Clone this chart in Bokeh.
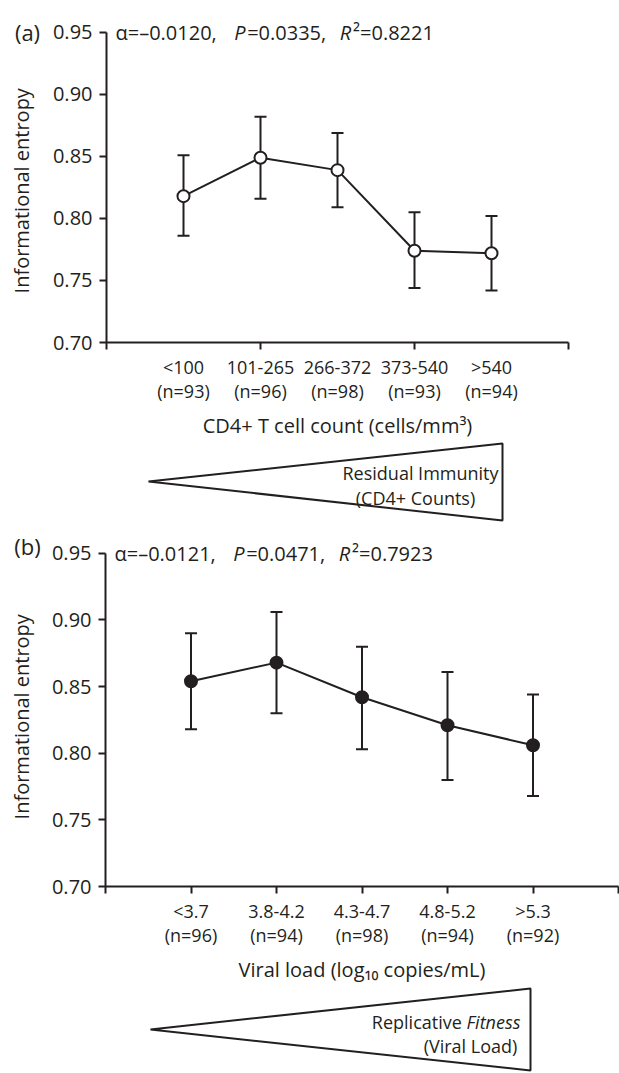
import math
from bokeh.plotting import figure
from bokeh.models import (FixedTicker, Label, Whisker, TeeHead, ColumnDataSource,
                          Range1d, NumeralTickFormatter)
from bokeh.layouts import column, row
from bokeh.embed import file_html
from bokeh.resources import INLINE

INK = "#231f20"
FONT = "Open Sans"

# ---------------- data ----------------
cd4_groups = ["<100", "101-265", "266-372", "373-540", ">540"]
cd4_n = [93, 96, 98, 93, 94]
cd4_mean = [0.818, 0.849, 0.839, 0.774, 0.772]
cd4_hi = [0.851, 0.882, 0.869, 0.805, 0.802]
cd4_lo = [0.786, 0.816, 0.809, 0.744, 0.742]

vl_groups = ["<3.7", "3.8-4.2", "4.3-4.7", "4.8-5.2", ">5.3"]
vl_n = [96, 94, 98, 94, 92]
vl_mean = [0.854, 0.868, 0.842, 0.821, 0.806]
vl_hi = [0.890, 0.906, 0.880, 0.861, 0.844]
vl_lo = [0.818, 0.830, 0.803, 0.780, 0.768]

y_ticks = [0.70, 0.75, 0.80, 0.85, 0.90, 0.95]

stats_a = [("α=–0.0120, ", "normal"), ("P", "italic"), ("=0.0335, ", "normal"),
           ("R", "italic"), ("²=0.8221", "normal")]
stats_b = [("α=–0.0121, ", "normal"), ("P", "italic"), ("=0.0471, ", "normal"),
           ("R", "italic"), ("²=0.7923", "normal")]

# approximate advance widths (em) for composing mixed-style labels
EM = {c: 0.572 for c in "0123456789=<>–−+"}
EM.update({'.': 0.266, ',': 0.245, ' ': 0.26, '(': 0.296, ')': 0.296, 'α': 0.62,
           'P': 0.59, 'R': 0.61, '²': 0.36, 'n': 0.6, '-': 0.322})

# rotated labels are rendered shifted along their reading direction; compensate
ROT_SHIFT = 47


def tw(s, size, k=1.0):
    return sum(EM.get(ch, 0.55) for ch in s) * size * k


def lab(p, x, y, text, size, style="normal", align="center", baseline="middle",
        angle=0.0, x_offset=0):
    p.add_layout(Label(x=x, y=y, x_offset=x_offset, text=text, angle=angle,
                       text_font=FONT, text_font_style=style,
                       text_font_size=f"{size}px", text_color=INK,
                       text_align=align, text_baseline=baseline))


def rich(p, x, y, chunks, size, x_offset, k=1.0):
    start = x_offset
    for t, style in chunks:
        lab(p, x, y, t, size, style=style, align="left", x_offset=start)
        start += tw(t, size, k)


def panel(groups, ns, mean, lo, hi, filled, stats, xtitle, minor, major_out,
          width, height, left, right, top, bottom, ypad):
    p = figure(width=width, height=height, x_range=Range1d(0, 6),
               y_range=Range1d(0.70, 0.95 + ypad),
               min_border_left=left, min_border_right=right, min_border_top=top,
               min_border_bottom=bottom, output_backend="svg", toolbar_location=None, tools="")
    p.outline_line_color = None
    p.grid.visible = False
    xs = list(range(1, len(groups) + 1))
    src = ColumnDataSource(dict(x=xs, m=mean, lo=lo, hi=hi))
    p.add_layout(Whisker(source=src, base="x", upper="hi", lower="lo", line_color=INK,
                         line_width=2, level="underlay",
                         upper_head=TeeHead(size=12, line_color=INK, line_width=2),
                         lower_head=TeeHead(size=12, line_color=INK, line_width=2)))
    p.line("x", "m", source=src, line_color=INK, line_width=2)
    p.scatter("x", "m", source=src, size=12, marker="circle", line_color=INK, line_width=2,
              fill_color=INK if filled else "white")

    xa = p.xaxis[0]
    xa.ticker = FixedTicker(ticks=xs, minor_ticks=minor)
    xa.major_label_overrides = {i: f"{g}\n(n={n})" for i, g, n in zip(xs, groups, ns)}
    xa.axis_line_width = 2
    xa.axis_line_color = INK
    xa.major_tick_out = major_out
    xa.major_tick_in = 0
    xa.major_tick_line_width = 2
    xa.major_tick_line_color = INK
    xa.minor_tick_out = 7
    xa.minor_tick_in = 0
    xa.minor_tick_line_width = 2
    xa.minor_tick_line_color = INK
    xa.major_label_text_font = FONT
    xa.major_label_text_font_size = "18px"
    xa.major_label_text_color = INK
    xa.major_label_text_line_height = 1.0
    xa.major_label_standoff = 5
    xa.axis_label = xtitle
    xa.axis_label_text_font = FONT
    xa.axis_label_text_font_size = "20px"
    xa.axis_label_text_font_style = "normal"
    xa.axis_label_text_color = INK
    xa.axis_label_standoff = 6

    ya = p.yaxis[0]
    ya.ticker = FixedTicker(ticks=y_ticks)
    ya.bounds = (0.70, 0.95)
    ya.formatter = NumeralTickFormatter(format="0.00")
    ya.axis_line_width = 2
    ya.axis_line_color = INK
    ya.major_tick_out = 7
    ya.major_tick_in = 0
    ya.major_tick_line_width = 2
    ya.major_tick_line_color = INK
    ya.minor_tick_out = 0
    ya.minor_tick_in = 0
    ya.major_label_text_font = FONT
    ya.major_label_text_font_size = "20px"
    ya.major_label_text_color = INK
    ya.major_label_standoff = 7

    # statistics line
    rich(p, 0, 0.95, stats, 20, 9, k=1.1)
    return p


def canvas(width, height, page_top):
    p = figure(width=width, height=height, x_range=Range1d(0, width),
               y_range=Range1d(page_top + height, page_top), min_border=0,
               x_axis_location=None, y_axis_location=None, output_backend="svg",
               toolbar_location=None, tools="")
    p.outline_line_color = None
    p.grid.visible = False
    return p


def side(height, page_top, tag, tag_y, ylabel_y):
    p = canvas(42, height, page_top)
    lab(p, 27, tag_y, tag, 22)
    lab(p, 21, ylabel_y + ROT_SHIFT, "Informational entropy", 20, angle=math.pi / 2)
    return p


def wedge(height, page_top, tri_x, tri_y):
    p = canvas(619, height, page_top)
    p.patch(tri_x, tri_y, fill_color="white", line_color=INK, line_width=2)
    return p


# ---- panel (a): page rows 0..441 ----
pa = panel(cd4_groups, cd4_n, cd4_mean, cd4_lo, cd4_hi, False, stats_a,
           "CD4+ T cell count (cells/mm³)", [0, 2, 4, 6], 0,
           width=577, height=441, left=64, right=51, top=14, bottom=98, ypad=0.0145)
sa = side(441, 0, "(a)", 23, 190)

wa = wedge(89, 441, [148, 502, 502], [481, 443, 520])
lab(wa, 420, 472, "Residual Immunity", 18)
lab(wa, 415, 497, "(CD4+ Counts)", 18)

# ---- panel (b): page rows 530..985 ----
pb = panel(vl_groups, vl_n, vl_mean, vl_lo, vl_hi, True, stats_b,
           "Viral load (log₁₀ copies/mL)", [0, 6], 7,
           width=577, height=455, left=63, right=1, top=5, bottom=98, ypad=0.0134)
sb = side(455, 530, "(b)", 544, 718)

wb = wedge(88, 985, [150, 530, 530], [1029, 988, 1070])
lab(wb, 466, 1021, "Replicative ", 18, align="right")
lab(wb, 466, 1021, "Fitness", 18, style="italic", align="left")
lab(wb, 470, 1045, "(Viral Load)", 18)

layout = column(row(sa, pa, spacing=0), wa, row(sb, pb, spacing=0), wb, spacing=0)
open("out.html", "w").write(file_html(layout, INLINE))
